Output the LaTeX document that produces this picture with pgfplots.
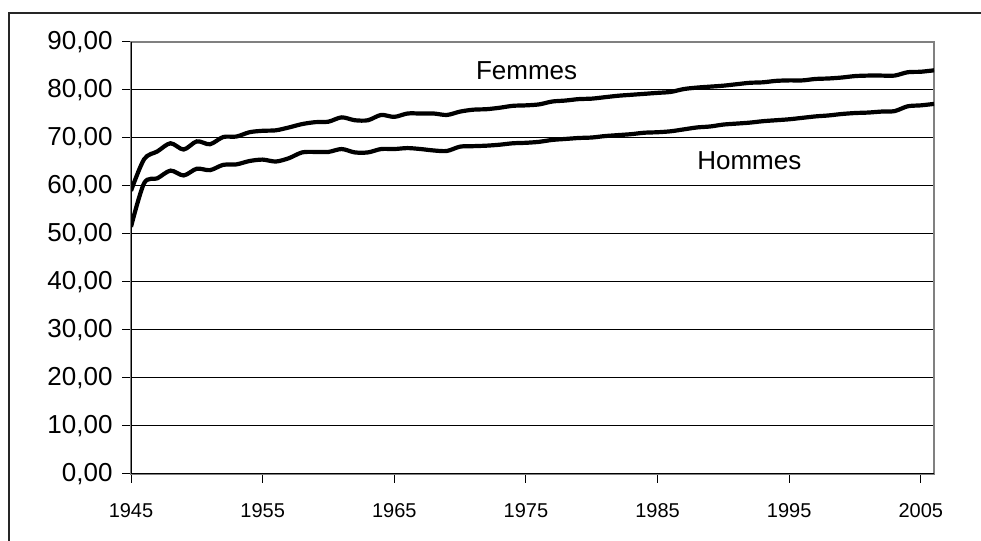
\documentclass[border=0pt]{standalone}
\usepackage{fontspec}
\setmainfont{Liberation Sans}
\usepackage{pgfplots}
\usepackage{pgfplotstable}
\pgfplotsset{compat=1.18}
\pgfplotstableread{
year val
1945 59.0
1946 65.6
1947 67.2
1948 68.9
1949 67.6
1950 69.3
1951 68.7
1952 70.2
1953 70.3
1954 71.2
1955 71.5
1956 71.6
1957 72.2
1958 72.9
1959 73.3
1960 73.4
1961 74.3
1962 73.7
1963 73.7
1964 74.8
1965 74.4
1966 75.1
1967 75.1
1968 75.1
1969 74.8
1970 75.5
1971 75.9
1972 76.0
1973 76.3
1974 76.7
1975 76.8
1976 77.0
1977 77.6
1978 77.8
1979 78.1
1980 78.2
1981 78.5
1982 78.8
1983 79.0
1984 79.2
1985 79.4
1986 79.6
1987 80.2
1988 80.5
1989 80.7
1990 80.9
1991 81.2
1992 81.5
1993 81.6
1994 81.9
1995 82.0
1996 82.0
1997 82.3
1998 82.4
1999 82.6
2000 82.9
2001 83.0
2002 83.0
2003 83.0
2004 83.7
2005 83.8
2006 84.1
}\femmes
\pgfplotstableread{
year val
1945 51.5
1946 60.6
1947 61.6
1948 63.2
1949 62.2
1950 63.6
1951 63.3
1952 64.4
1953 64.5
1954 65.2
1955 65.5
1956 65.1
1957 65.8
1958 67.0
1959 67.1
1960 67.1
1961 67.7
1962 67.0
1963 67.0
1964 67.7
1965 67.7
1966 67.9
1967 67.7
1968 67.4
1969 67.3
1970 68.2
1971 68.3
1972 68.4
1973 68.6
1974 68.9
1975 69.0
1976 69.2
1977 69.6
1978 69.8
1979 70.0
1980 70.1
1981 70.4
1982 70.6
1983 70.8
1984 71.1
1985 71.2
1986 71.4
1987 71.8
1988 72.2
1989 72.4
1990 72.8
1991 73.0
1992 73.2
1993 73.5
1994 73.7
1995 73.9
1996 74.2
1997 74.5
1998 74.7
1999 75.0
2000 75.2
2001 75.3
2002 75.5
2003 75.6
2004 76.6
2005 76.8
2006 77.1
}\hommes
\begin{document}
\begin{tikzpicture}
\useasboundingbox (0pt,0pt) rectangle (981pt,540pt);
% outer frame (partly cropped)
\draw[line width=2pt, black!85] (9pt,-5pt) -- (9pt,527pt) -- (990pt,527pt);
% cropped title parentheses
\node[anchor=base, inner sep=0pt, font=\fontsize{30}{34}\selectfont] at (449pt,546pt) {(};
\node[anchor=base, inner sep=0pt, font=\fontsize{30}{34}\selectfont] at (723pt,546pt) {)};
\begin{axis}[
  at={(131pt,66pt)}, anchor=south west,
  scale only axis, width=803pt, height=432pt,
  xmin=1945, xmax=2006, ymin=0, ymax=90,
  xtick={1945,1955,1965,1975,1985,1995,2005},
  xticklabels={1945,1955,1965,1975,1985,1995,2005},
  ytick={0,10,...,90},
  yticklabels={{0,00},{10,00},{20,00},{30,00},{40,00},{50,00},{60,00},{70,00},{80,00},{90,00}},
  xtick pos=bottom, ytick pos=left,
  tick align=outside,
  major tick length=9pt,
  tick style={black, line width=1pt},
  axis line style={draw=black!50, line width=1.5pt},
  ymajorgrids, grid style={black, line width=1pt},
  /pgf/number format/assume math mode=true,
  yticklabel style={font=\fontsize{26}{30}\selectfont, xshift=-6pt},
  xticklabel style={font=\fontsize{20}{24}\selectfont, yshift=-17pt},
  clip=true,
]
\addplot[black, line width=4.2pt, smooth, tension=0.5] table[x=year, y=val] {\femmes};
\addplot[black, line width=4.2pt, smooth, tension=0.5] table[x=year, y=val] {\hommes};
\draw[black, line width=1.5pt] (rel axis cs:0,1) -- (rel axis cs:0,0) -- (rel axis cs:1,0);
\node[font=\fontsize{26}{30}\selectfont, inner sep=0pt] at (axis cs:1975.05,83.96) {Femmes};
\node[font=\fontsize{26}{30}\selectfont, inner sep=0pt] at (axis cs:1991.97,65.2) {Hommes};
\end{axis}
\end{tikzpicture}
\end{document}
